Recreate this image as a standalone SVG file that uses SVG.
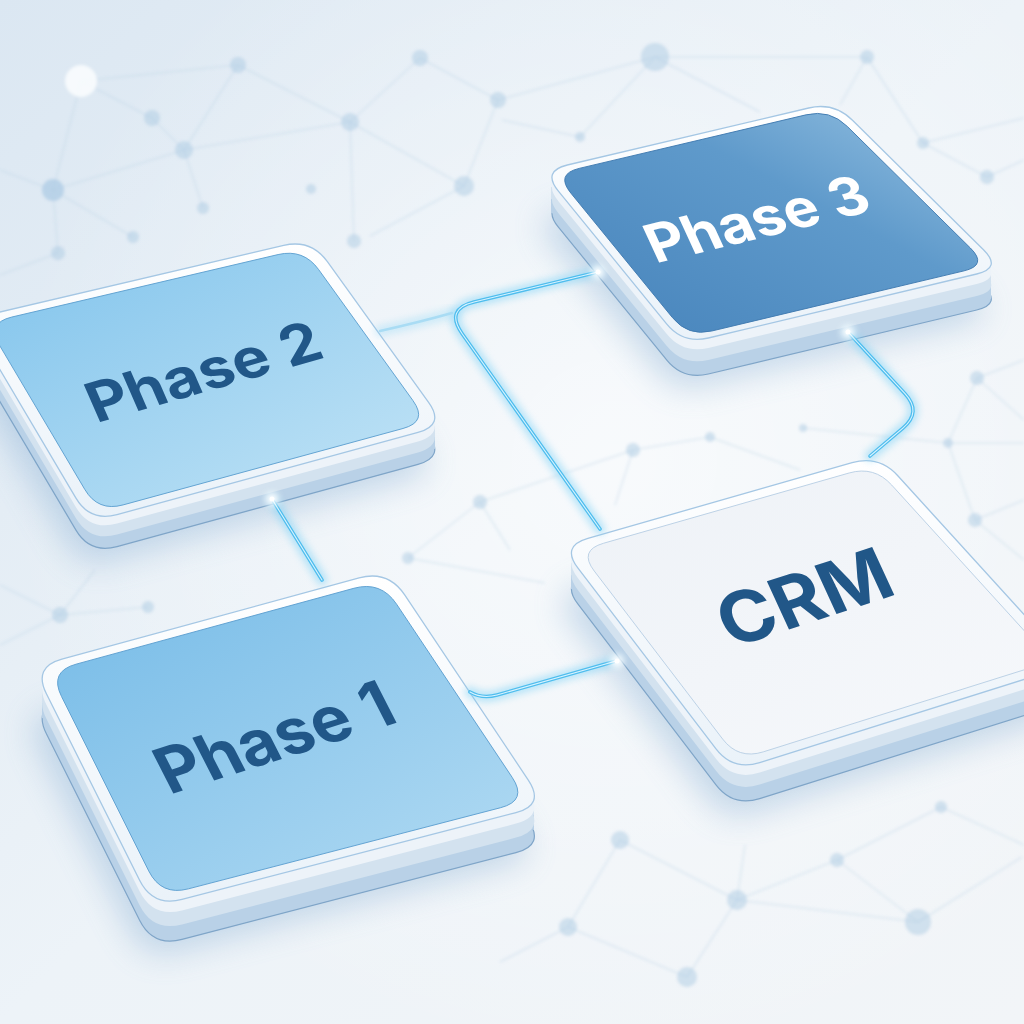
<svg xmlns="http://www.w3.org/2000/svg" width="1024" height="1024" viewBox="0 0 1024 1024">
<defs>
  <linearGradient id="bg" x1="0" y1="0" x2="1" y2="1">
    <stop offset="0" stop-color="#dbe7f2"/>
    <stop offset="0.5" stop-color="#edf3f8"/>
    <stop offset="1" stop-color="#f2f5f8"/>
  </linearGradient>
  <radialGradient id="bgHi" cx="0.6" cy="0.45" r="0.6">
    <stop offset="0" stop-color="#ffffff" stop-opacity="0.6"/>
    <stop offset="1" stop-color="#ffffff" stop-opacity="0"/>
  </radialGradient>
  <linearGradient id="face1" x1="0" y1="0" x2="1" y2="1">
    <stop offset="0" stop-color="#76bbe7"/>
    <stop offset="1" stop-color="#b2dbf3"/>
  </linearGradient>
  <linearGradient id="face2" x1="0" y1="0" x2="1" y2="1">
    <stop offset="0" stop-color="#82c4ec"/>
    <stop offset="1" stop-color="#c2e4f6"/>
  </linearGradient>
  <linearGradient id="face3" x1="0" y1="1" x2="1" y2="0">
    <stop offset="0" stop-color="#4683bb"/>
    <stop offset="0.6" stop-color="#5f9acb"/>
    <stop offset="1" stop-color="#96c2e2"/>
  </linearGradient>
  <linearGradient id="faceC" x1="0" y1="0" x2="1" y2="1">
    <stop offset="0" stop-color="#eef2f7"/>
    <stop offset="1" stop-color="#f6f8fb"/>
  </linearGradient>
  <linearGradient id="rimG" x1="0" y1="0" x2="0" y2="1">
    <stop offset="0" stop-color="#ffffff"/>
    <stop offset="1" stop-color="#eaf2f9"/>
  </linearGradient>
  <filter id="shadow" x="-30%" y="-30%" width="160%" height="160%">
    <feGaussianBlur stdDeviation="16"/>
  </filter>
  <filter id="glow" x="-50%" y="-50%" width="200%" height="200%">
    <feGaussianBlur stdDeviation="3.5"/>
  </filter>
  <filter id="soft" x="-50%" y="-50%" width="200%" height="200%">
    <feGaussianBlur stdDeviation="1.4"/>
  </filter>
  <path id="s1" d="M61.9,659.1 L359.1,577.9 Q388,570 404.7,594.9 L528.3,780.1 Q545,805 516,812.6 L182,899.4 Q153,907 139.6,880.2 L46.4,693.8 Q33,667 61.9,659.1 Z"/>
  <path id="s2" d="M-2.7,312.6 L283.7,245.4 Q311,239 327.4,261.7 L428.6,402.3 Q445,425 418,432.4 L117,514.6 Q90,522 75.8,497.9 L-15.8,343.1 Q-30,319 -2.7,312.6 Z"/>
  <path id="s3" d="M567.3,165 L808.7,108 Q834,102 852.5,120.3 L983.5,249.7 Q1002,268 976.7,274 L708.3,338 Q683,344 666.6,323.8 L558.4,191.2 Q542,171 567.3,165 Z"/>
  <path id="sc" d="M587.9,538.3 L852.1,462.7 Q879,455 897.8,475.7 L1051.2,644.3 Q1070,665 1043.3,673.4 L759.7,762.6 Q733,771 716,748.8 L578,568.2 Q561,546 587.9,538.3 Z"/>
  <style>
    .net line { stroke: #bcd3e7; stroke-width: 1.5; opacity: 0.4; }
    .net circle { fill: #aecbe4; opacity: 0.5; }
    .shadow { fill: #7fa9d0; opacity: 0.4; filter: url(#shadow); }
    .sideDark { fill: #b9d1e7; stroke: #7fa5c8; stroke-width: 1.2; }
    .sideMid { fill: #d3e2ef; }
    .sideLight { fill: #edf3f9; }
    .rim { fill: url(#rimG); stroke: #a5c7e4; stroke-width: 1.3; }
    .lbl { font-family: Inter, 'Liberation Sans', sans-serif; font-weight: 700; text-anchor: middle; }
    .dark { fill: #215788; }
    .light { fill: #ffffff; }
    .cGlow { fill: none; stroke: #80d3f6; stroke-width: 11; opacity: 0.5; filter: url(#glow); stroke-linecap: round; stroke-linejoin: round; }
    .cCore { fill: none; stroke: #4ebdee; stroke-width: 3.6; stroke-linecap: round; stroke-linejoin: round; }
    .cHi { fill: none; stroke: #d8f3ff; stroke-width: 1.1; stroke-linecap: round; stroke-linejoin: round; }
    .spot { fill: #ffffff; }
  </style>
</defs>

<rect width="1024" height="1024" fill="url(#bg)"/>
<rect width="1024" height="1024" fill="url(#bgHi)"/>

<g class="net" filter="url(#soft)">
  <line x1="0" y1="170" x2="53" y2="190"/>
  <line x1="81" y1="81" x2="53" y2="190"/>
  <line x1="53" y1="190" x2="58" y2="253"/>
  <line x1="53" y1="190" x2="184" y2="150"/>
  <line x1="81" y1="81" x2="152" y2="118"/>
  <line x1="152" y1="118" x2="184" y2="150"/>
  <line x1="184" y1="150" x2="238" y2="65"/>
  <line x1="184" y1="150" x2="350" y2="122"/>
  <line x1="184" y1="150" x2="203" y2="208"/>
  <line x1="53" y1="190" x2="133" y2="237"/>
  <line x1="0" y1="275" x2="58" y2="253"/>
  <line x1="81" y1="81" x2="238" y2="65"/>
  <line x1="238" y1="65" x2="350" y2="122"/>
  <line x1="350" y1="122" x2="420" y2="58"/>
  <line x1="350" y1="122" x2="354" y2="241"/>
  <line x1="350" y1="122" x2="464" y2="186"/>
  <line x1="464" y1="186" x2="498" y2="100"/>
  <line x1="420" y1="58" x2="498" y2="100"/>
  <line x1="464" y1="186" x2="370" y2="236"/>
  <line x1="498" y1="100" x2="655" y2="57"/>
  <line x1="655" y1="57" x2="580" y2="137"/>
  <line x1="580" y1="137" x2="502" y2="120"/>
  <line x1="655" y1="57" x2="867" y2="57"/>
  <line x1="655" y1="57" x2="760" y2="112"/>
  <line x1="867" y1="57" x2="923" y2="143"/>
  <line x1="867" y1="57" x2="840" y2="105"/>
  <line x1="923" y1="143" x2="987" y2="177"/>
  <line x1="987" y1="177" x2="1024" y2="160"/>
  <line x1="923" y1="143" x2="1024" y2="118"/>
  <line x1="977" y1="378" x2="1024" y2="360"/>
  <line x1="977" y1="378" x2="948" y2="443"/>
  <line x1="977" y1="378" x2="1024" y2="420"/>
  <line x1="948" y1="443" x2="803" y2="428"/>
  <line x1="948" y1="443" x2="1024" y2="443"/>
  <line x1="948" y1="443" x2="975" y2="520"/>
  <line x1="975" y1="520" x2="1024" y2="500"/>
  <line x1="975" y1="520" x2="1024" y2="560"/>
  <line x1="480" y1="502" x2="408" y2="558"/>
  <line x1="408" y1="558" x2="545" y2="583"/>
  <line x1="480" y1="502" x2="633" y2="450"/>
  <line x1="480" y1="502" x2="510" y2="550"/>
  <line x1="633" y1="450" x2="710" y2="437"/>
  <line x1="710" y1="437" x2="800" y2="470"/>
  <line x1="633" y1="450" x2="615" y2="505"/>
  <line x1="60" y1="615" x2="148" y2="607"/>
  <line x1="60" y1="615" x2="0" y2="645"/>
  <line x1="60" y1="615" x2="95" y2="570"/>
  <line x1="0" y1="585" x2="60" y2="615"/>
  <line x1="620" y1="840" x2="568" y2="927"/>
  <line x1="620" y1="840" x2="737" y2="900"/>
  <line x1="568" y1="927" x2="687" y2="977"/>
  <line x1="687" y1="977" x2="737" y2="900"/>
  <line x1="737" y1="900" x2="837" y2="860"/>
  <line x1="837" y1="860" x2="918" y2="922"/>
  <line x1="837" y1="860" x2="941" y2="807"/>
  <line x1="918" y1="922" x2="1022" y2="857"/>
  <line x1="941" y1="807" x2="1024" y2="845"/>
  <line x1="737" y1="900" x2="918" y2="922"/>
  <line x1="568" y1="927" x2="500" y2="962"/>
  <line x1="737" y1="900" x2="745" y2="845"/>
  <circle cx="81" cy="81" r="16" style="fill:#f8fbfd;opacity:0.95"/>
  <circle cx="53" cy="190" r="11" style="opacity:0.75"/>
  <circle cx="152" cy="118" r="8"/>
  <circle cx="184" cy="150" r="9"/>
  <circle cx="238" cy="65" r="8"/>
  <circle cx="350" cy="122" r="9"/>
  <circle cx="420" cy="58" r="8"/>
  <circle cx="498" cy="100" r="8"/>
  <circle cx="464" cy="186" r="10"/>
  <circle cx="311" cy="189" r="5"/>
  <circle cx="203" cy="208" r="6"/>
  <circle cx="133" cy="237" r="6"/>
  <circle cx="58" cy="253" r="7"/>
  <circle cx="354" cy="241" r="7"/>
  <circle cx="655" cy="57" r="14"/>
  <circle cx="867" cy="57" r="7"/>
  <circle cx="580" cy="137" r="5"/>
  <circle cx="923" cy="143" r="6"/>
  <circle cx="987" cy="177" r="7"/>
  <circle cx="977" cy="378" r="7"/>
  <circle cx="948" cy="443" r="5"/>
  <circle cx="803" cy="428" r="4"/>
  <circle cx="975" cy="520" r="7"/>
  <circle cx="480" cy="502" r="7"/>
  <circle cx="408" cy="558" r="6"/>
  <circle cx="633" cy="450" r="7"/>
  <circle cx="710" cy="437" r="5"/>
  <circle cx="60" cy="615" r="8"/>
  <circle cx="148" cy="607" r="6"/>
  <circle cx="620" cy="840" r="9"/>
  <circle cx="568" cy="927" r="9"/>
  <circle cx="737" cy="900" r="10"/>
  <circle cx="687" cy="977" r="10"/>
  <circle cx="837" cy="860" r="7"/>
  <circle cx="918" cy="922" r="13"/>
  <circle cx="941" cy="807" r="6"/>
</g>

<!-- Phase 3 -->
<g id="phase3">
  <use href="#s3" class="shadow" transform="translate(-8,48)"/>
  <use href="#s3" class="sideDark" transform="translate(0,36)"/>
  <polygon class="sideDark" points="551,177 991,263 991,299 551,213" style="stroke:none"/>
  <use href="#s3" class="sideMid" transform="translate(0,22)"/>
  <polygon class="sideMid" points="551,177 991,263 991,285 551,199"/>
  <use href="#s3" class="sideLight" transform="translate(0,10)"/>
  <polygon class="sideLight" points="551,177 991,263 991,273 551,187"/>
  <use href="#s3" class="rim"/>
  <use href="#s3" fill="url(#face3)" stroke="#3f7ab0" stroke-width="1" transform="matrix(0.94,0,0,0.94,45.9,13.3)"/>
  <text class="lbl light" font-size="58" transform="matrix(0.972,-0.236,0.4,0.87,765,237)">Phase 3</text>
</g>

<!-- Phase 2 -->
<g id="phase2">
  <use href="#s2" class="shadow" transform="translate(-8,46)"/>
  <use href="#s2" class="sideDark" transform="translate(0,32)"/>
  <polygon class="sideDark" points="-21,329 435,417 435,449 -21,361" style="stroke:none"/>
  <use href="#s2" class="sideMid" transform="translate(0,20)"/>
  <polygon class="sideMid" points="-21,329 435,417 435,437 -21,349"/>
  <use href="#s2" class="sideLight" transform="translate(0,9)"/>
  <polygon class="sideLight" points="-21,329 435,417 435,426 -21,338"/>
  <use href="#s2" class="rim"/>
  <use href="#s2" fill="url(#face2)" stroke="#5c9fd0" stroke-width="1" transform="matrix(0.93,0,0,0.93,14.28,26.34)"/>
  <text class="lbl dark" font-size="62" transform="matrix(0.961,-0.276,0.364,0.835,211.5,390)">Phase 2</text>
</g>

<!-- CRM -->
<g id="crm">
  <use href="#sc" class="shadow" transform="translate(-8,50)"/>
  <use href="#sc" class="sideDark" transform="translate(0,36)"/>
  <polygon class="sideDark" points="571,553 1058,655 1058,691 571,589" style="stroke:none"/>
  <use href="#sc" class="sideMid" transform="translate(0,22)"/>
  <polygon class="sideMid" points="571,553 1058,655 1058,677 571,575"/>
  <use href="#sc" class="sideLight" transform="translate(0,10)"/>
  <polygon class="sideLight" points="571,553 1058,655 1058,665 571,563"/>
  <use href="#sc" class="rim"/>
  <use href="#sc" fill="url(#faceC)" stroke="#b8cfe4" stroke-width="1" transform="matrix(0.93,0,0,0.93,56.75,42.65)"/>
  <text class="lbl dark" font-size="76" transform="matrix(0.95,-0.31,0.4,0.87,815,621)">CRM</text>
</g>

<!-- Phase 1 -->
<g id="phase1">
  <use href="#s1" class="shadow" transform="translate(-8,52)"/>
  <use href="#s1" class="sideDark" transform="translate(0,40)"/>
  <polygon class="sideDark" points="42,678 534,790 534,830 42,718" style="stroke:none"/>
  <use href="#s1" class="sideMid" transform="translate(0,25)"/>
  <polygon class="sideMid" points="42,678 534,790 534,815 42,703"/>
  <use href="#s1" class="sideLight" transform="translate(0,11)"/>
  <polygon class="sideLight" points="42,678 534,790 534,801 42,689"/>
  <use href="#s1" class="rim"/>
  <use href="#s1" fill="url(#face1)" stroke="#5c9fd0" stroke-width="1" transform="matrix(0.935,0,0,0.935,18.18,47.92)"/>
  <text class="lbl dark" font-size="66" transform="matrix(0.954,-0.303,0.455,0.89,285,758)">Phase 1</text>
</g>

<g id="connectors">
  <path class="cGlow" d="M272,499 L322,580"/>
  <path class="cGlow" d="M470,692 Q482,699 497,695 L616,661"/>
  <path class="cGlow" d="M598,272 L474,302 Q445,309 462,333.5 L600,529"/>
  <path class="cGlow" d="M380,331 Q420,322 452,313" style="opacity:0.3"/>
  <path class="cGlow" d="M848,332 L905,393.7 Q922,412 902.9,428.2 L870,456"/>
  <path class="cCore" d="M272,499 L322,580"/>
  <path class="cCore" d="M470,692 Q482,699 497,695 L616,661"/>
  <path class="cCore" d="M598,272 L474,302 Q445,309 462,333.5 L600,529"/>
  <path class="cCore" d="M380,331 Q420,322 452,313" style="stroke:#a9dcf4;stroke-width:2.5"/>
  <path class="cCore" d="M848,332 L905,393.7 Q922,412 902.9,428.2 L870,456"/>
  <path class="cHi" d="M272,499 L322,580"/>
  <path class="cHi" d="M470,692 Q482,699 497,695 L616,661"/>
  <path class="cHi" d="M598,272 L474,302 Q445,309 462,333.5 L600,529"/>
  <path class="cHi" d="M848,332 L905,393.7 Q922,412 902.9,428.2 L870,456"/>
  <g filter="url(#glow)">
    <circle class="spot" cx="272" cy="499" r="7"/>
    <circle class="spot" cx="598" cy="272" r="7"/>
    <circle class="spot" cx="848" cy="332" r="7"/>
    <circle class="spot" cx="617" cy="661" r="7"/>
  </g>
  <circle class="spot" cx="272" cy="499" r="2.5"/>
  <circle class="spot" cx="598" cy="272" r="2.5"/>
  <circle class="spot" cx="848" cy="332" r="2.5"/>
  <circle class="spot" cx="617" cy="661" r="2.5"/>
</g>
</svg>
